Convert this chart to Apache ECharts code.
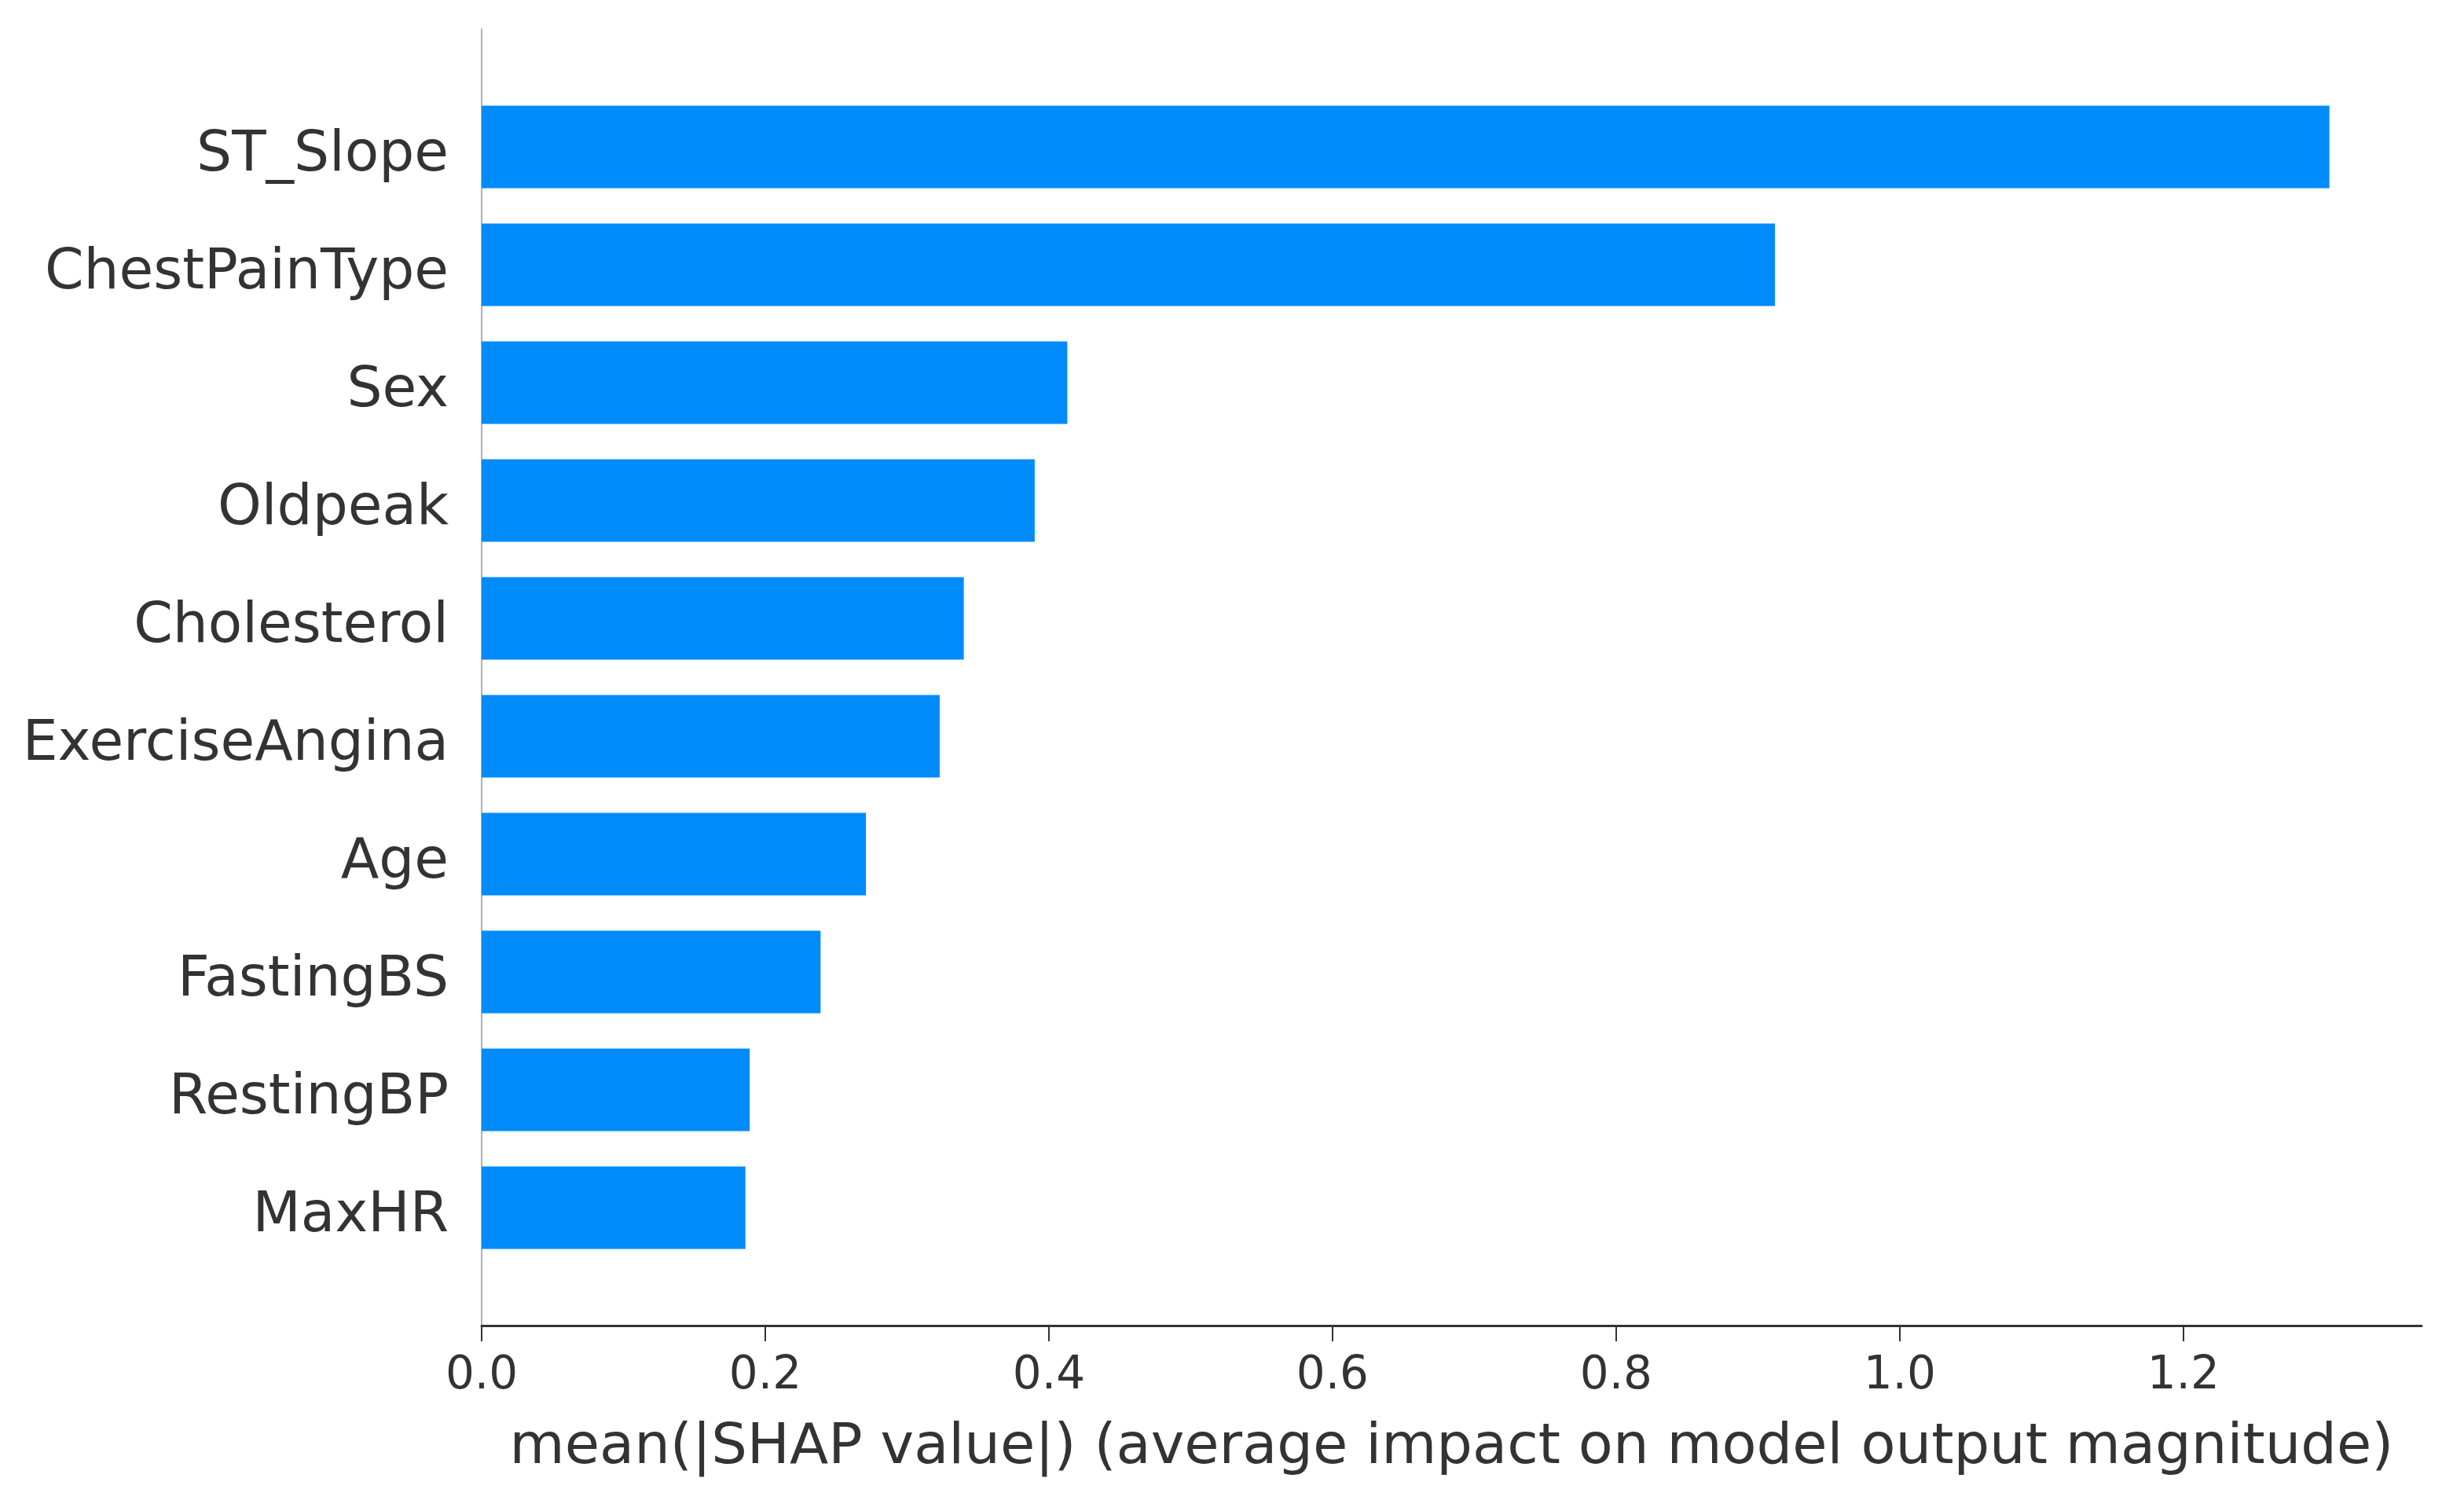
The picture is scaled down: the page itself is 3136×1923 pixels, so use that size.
<!DOCTYPE html>
<html>
<head>
<meta charset="utf-8">
<script src="https://cdn.jsdelivr.net/npm/echarts@6/dist/echarts.min.js"></script>
<style>
html,body{margin:0;padding:0;background:#fff;}
#chart{width:3136px;height:1923px;}
</style>
</head>
<body>
<div id="chart"></div>
<script>
const features = ['ST_Slope','ChestPainType','Sex','Oldpeak','Cholesterol','ExerciseAngina','Age','FastingBS','RestingBP','MaxHR'];
const meanAbsShap = [1.303, 0.912, 0.413, 0.390, 0.340, 0.323, 0.271, 0.239, 0.189, 0.186];
const xTicks = [0, 0.2, 0.4, 0.6, 0.8, 1.0, 1.2];
const xLabel = 'mean(|SHAP value|) (average impact on model output magnitude)';

const FONT = 'DejaVu Sans';
const axisCats = [''].concat(features, ['']);
const barData = [null].concat(meanAbsShap, [null]);
const LABEL_SHIFT = 12;

const chart = echarts.init(document.getElementById('chart'), null, {renderer: 'canvas'});
chart.setOption({
  backgroundColor: '#ffffff',
  animation: false,
  grid: [
    {left: 613, right: 54, top: 37, bottom: 236, containLabel: false},
    {left: 613, right: 54, top: 37 + LABEL_SHIFT, bottom: 236 - LABEL_SHIFT, containLabel: false}
  ],
  xAxis: [{
    type: 'value',
    gridIndex: 0,
    min: 0,
    max: 1.368,
    interval: 0.2,
    splitLine: {show: false},
    axisLine: {show: true, lineStyle: {color: '#333333', width: 3}},
    axisTick: {show: true, length: 20, customValues: xTicks, lineStyle: {color: '#333333', width: 2}},
    axisLabel: {
      customValues: xTicks,
      fontFamily: FONT, fontSize: 58, color: '#333333', margin: 36,
      formatter: v => v.toFixed(1)
    },
    name: xLabel,
    nameLocation: 'middle',
    nameGap: 120,
    nameTextStyle: {fontFamily: FONT, fontSize: 72, color: '#333333'}
  }, {
    type: 'value',
    gridIndex: 1,
    min: 0,
    max: 1.368,
    show: false
  }],
  yAxis: [{
    type: 'category',
    gridIndex: 0,
    data: axisCats,
    inverse: true,
    boundaryGap: false,
    axisLine: {show: true, lineStyle: {color: '#b0b0b0', width: 2}},
    axisTick: {show: false},
    splitLine: {show: false},
    axisLabel: {show: false}
  }, {
    type: 'category',
    gridIndex: 1,
    data: axisCats,
    inverse: true,
    boundaryGap: false,
    axisLine: {show: false},
    axisTick: {show: false},
    splitLine: {show: false},
    axisLabel: {fontFamily: FONT, fontSize: 71, color: '#333333', margin: 42, interval: 0}
  }],
  series: [{
    type: 'bar',
    xAxisIndex: 0,
    yAxisIndex: 0,
    data: barData,
    barWidth: '70%',
    itemStyle: {color: '#008bfb'}
  }]
});
</script>
</body>
</html>
